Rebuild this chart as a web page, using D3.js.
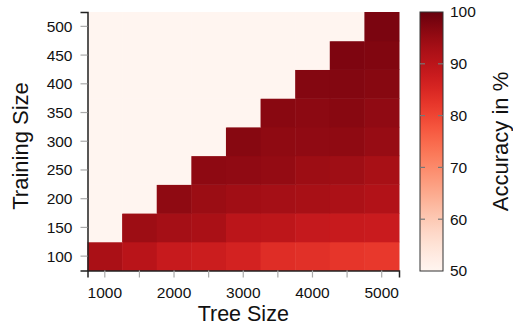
<!DOCTYPE html>
<html>
<head>
<meta charset="utf-8">
<script src="https://cdn.jsdelivr.net/npm/d3@7"></script>
<style>
  html, body { margin: 0; padding: 0; background: #fff; }
  svg { display: block; font-family: "Liberation Sans", Arial, sans-serif; }
</style>
</head>
<body>
<svg id="chart" width="513" height="328"></svg>
<script>
// Tree sizes (columns) and training sizes (rows)
const treeSizes = [1000, 1500, 2000, 2500, 3000, 3500, 4000, 4500, 5000];
const trainingSizes = [100, 150, 200, 250, 300, 350, 400, 450, 500];

// Accuracy (%) per training size, one value per tree size; null = not evaluated
const acc100 = [92.6, 90.4, 88.1, 87.4, 86.0, 83.9, 83.4, 82.5, 82.1];
const acc150 = [null, 94.2, 93.3, 92.6, 90.1, 89.8, 88.4, 88.1, 87.8];
const acc200 = [null, null, 95.9, 94.5, 93.7, 93.3, 92.8, 92.3, 91.4];
const acc250 = [null, null, null, 96.0, 95.7, 95.3, 94.3, 94.0, 92.9];
const acc300 = [null, null, null, null, 96.7, 95.9, 95.7, 95.8, 94.9];
const acc350 = [null, null, null, null, null, 96.5, 96.2, 96.6, 95.7];
const acc400 = [null, null, null, null, null, null, 97.0, 97.1, 96.7];
const acc450 = [null, null, null, null, null, null, null, 97.7, 97.3];
const acc500 = [null, null, null, null, null, null, null, null, 98.0];
const accuracy = [acc100, acc150, acc200, acc250, acc300, acc350, acc400, acc450, acc500];

const xTickLabels = [1000, 2000, 3000, 4000, 5000];
const colorTicks = [50, 60, 70, 80, 90, 100];
const colorDomain = [50, 100];

const svg = d3.select("#chart");
const plot = { left: 87.5, right: 399, top: 12, bottom: 270.5 };
const cbar = { left: 420, right: 443, top: 12, bottom: 271 };

const x = d3.scaleBand().domain(treeSizes).range([plot.left, plot.right]).padding(0);
const y = d3.scaleBand().domain(trainingSizes).range([plot.bottom, plot.top]).padding(0);
const color = d3.scaleSequential(d3.interpolateReds).domain(colorDomain);

// Flatten into cells
const cells = [];
trainingSizes.forEach((t, i) => {
  treeSizes.forEach((s, j) => {
    cells.push({ tree: s, train: t, value: accuracy[i][j] });
  });
});

svg.append("g")
  .selectAll("rect")
  .data(cells)
  .join("rect")
  .attr("x", d => x(d.tree))
  .attr("y", d => y(d.train))
  .attr("width", x.bandwidth() + 0.5)
  .attr("height", y.bandwidth() + 0.5)
  .attr("fill", d => color(d.value == null ? colorDomain[0] : d.value));

// Axes
const xAxis = d3.axisBottom(x)
  .tickSizeOuter(0)
  .tickSize(7)
  .tickFormat(d => xTickLabels.includes(d) ? d : "");
const gx = svg.append("g")
  .attr("transform", `translate(0,${plot.bottom})`)
  .call(xAxis);
gx.select(".domain").attr("stroke", "#222").attr("stroke-width", 1.5);
gx.selectAll(".tick line").attr("stroke", "#aaa").attr("stroke-width", 1.2);
gx.selectAll(".tick text")
  .attr("font-size", 15.5).attr("fill", "#111")
  .attr("font-family", "Liberation Sans, Arial, sans-serif")
  .attr("dy", 0).attr("y", 27);

const yAxis = d3.axisLeft(y).tickSizeOuter(0).tickSize(7);
const gy = svg.append("g")
  .attr("transform", `translate(${plot.left},0)`)
  .call(yAxis);
gy.select(".domain").attr("stroke", "#222").attr("stroke-width", 1.5);
gy.selectAll(".tick line").attr("stroke", "#aaa").attr("stroke-width", 1.2);
gy.selectAll(".tick text")
  .attr("font-size", 15.5).attr("fill", "#111")
  .attr("font-family", "Liberation Sans, Arial, sans-serif")
  .attr("x", -15).attr("dy", "0.35em");

// Axis titles
svg.append("text")
  .attr("x", (plot.left + plot.right) / 2)
  .attr("y", 320.5)
  .attr("text-anchor", "middle")
  .attr("font-size", 21.5)
  .attr("fill", "#111")
  .text("Tree Size");

svg.append("text")
  .attr("transform", `translate(28,${146}) rotate(-90)`)
  .attr("text-anchor", "middle")
  .attr("font-size", 22)
  .attr("fill", "#111")
  .text("Training Size");

// Colour bar
const defs = svg.append("defs");
const grad = defs.append("linearGradient")
  .attr("id", "cbar-grad")
  .attr("x1", 0).attr("y1", 1).attr("x2", 0).attr("y2", 0);
d3.range(0, 1.0001, 0.05).forEach(t => {
  grad.append("stop")
    .attr("offset", t)
    .attr("stop-color", color(colorDomain[0] + t * (colorDomain[1] - colorDomain[0])));
});

const cy = d3.scaleLinear().domain(colorDomain).range([cbar.bottom, cbar.top]);

svg.append("rect")
  .attr("x", cbar.left).attr("y", cbar.top)
  .attr("width", cbar.right - cbar.left)
  .attr("height", cbar.bottom - cbar.top)
  .attr("fill", "url(#cbar-grad)")
  .attr("stroke", "#333").attr("stroke-width", 1);

const cg = svg.append("g");
cg.selectAll("line.l")
  .data(colorTicks.filter(v => v > colorDomain[0] && v < colorDomain[1]))
  .join("line")
  .attr("class", "l")
  .attr("x1", cbar.left).attr("x2", cbar.left + 5)
  .attr("y1", d => cy(d)).attr("y2", d => cy(d))
  .attr("stroke", "#777").attr("stroke-width", 1.2);
cg.selectAll("line.r")
  .data(colorTicks.filter(v => v > colorDomain[0] && v < colorDomain[1]))
  .join("line")
  .attr("class", "r")
  .attr("x1", cbar.right - 5).attr("x2", cbar.right)
  .attr("y1", d => cy(d)).attr("y2", d => cy(d))
  .attr("stroke", "#777").attr("stroke-width", 1.2);
cg.selectAll("text")
  .data(colorTicks)
  .join("text")
  .attr("x", 450)
  .attr("y", d => cy(d))
  .attr("dy", "0.35em")
  .attr("font-size", 15.5)
  .attr("fill", "#111")
  .text(d => d);

svg.append("text")
  .attr("transform", `translate(508,${(cbar.top + cbar.bottom) / 2}) rotate(-90)`)
  .attr("text-anchor", "middle")
  .attr("font-size", 22)
  .attr("fill", "#111")
  .text("Accuracy in %");
</script>
</body>
</html>
